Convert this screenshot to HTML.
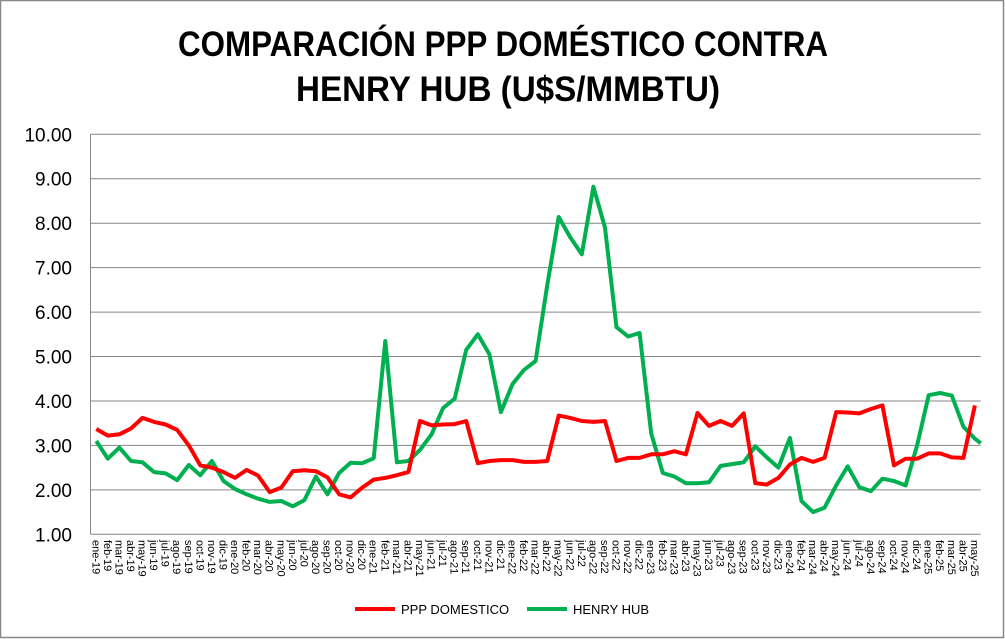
<!DOCTYPE html>
<html><head><meta charset="utf-8"><style>
html,body{margin:0;padding:0;background:#fff}
svg{display:block}
</style></head><body>
<svg id="c" width="1005" height="639" xmlns="http://www.w3.org/2000/svg" font-family="Liberation Sans, sans-serif">
<rect x="0.5" y="0.5" width="1003" height="637" fill="#fff" stroke="#888" stroke-width="1.5"/>
<text x="178" y="56" textLength="650" lengthAdjust="spacingAndGlyphs" font-size="35" font-weight="bold" fill="#000">COMPARACIÓN PPP DOMÉSTICO CONTRA</text>
<text x="296" y="101" textLength="424" lengthAdjust="spacingAndGlyphs" font-size="35" font-weight="bold" fill="#000">HENRY HUB (U$S/MMBTU)</text>
<g id="grid"></g>
<g id="lines"></g>
<g id="labels" font-size="11" fill="#000"></g>
<line x1="355" y1="609" x2="395" y2="609" stroke="#ff0000" stroke-width="4"/>
<text x="401" y="614" font-size="13">PPP DOMESTICO</text>
<line x1="527" y1="609" x2="567" y2="609" stroke="#00b050" stroke-width="4"/>
<text x="573" y="614" font-size="13">HENRY HUB</text>
</svg>
<script>
var L=90.5,R=980.7,T=134.3,B=534.3;
function Y(v){return B-(v-1)*(B-T)/9;}
var n=77,w=(R-L)/n;function X(i){return L+w*(i+0.5);}
var g='';
for(var v=1;v<=10;v++){var y=Y(v);g+='<line x1="'+L+'" y1="'+y+'" x2="'+R+'" y2="'+y+'" stroke="#868686" stroke-width="1"/>';
g+='<text x="72" y="'+(y+7)+'" text-anchor="end" font-size="19" fill="#000">'+v.toFixed(2)+'</text>';}
g+='<line x1="'+L+'" y1="'+T+'" x2="'+L+'" y2="'+B+'" stroke="#868686"/>';
document.getElementById('grid').innerHTML=g;
var red=[3.37,3.22,3.25,3.38,3.62,3.53,3.47,3.35,3.0,2.55,2.5,2.4,2.27,2.45,2.32,1.95,2.05,2.42,2.44,2.42,2.28,1.9,1.83,2.05,2.23,2.27,2.33,2.4,3.55,3.45,3.47,3.48,3.55,2.6,2.65,2.67,2.67,2.63,2.63,2.65,3.67,3.62,3.55,3.53,3.55,2.65,2.72,2.72,2.8,2.8,2.87,2.8,3.73,3.44,3.55,3.44,3.72,2.15,2.12,2.27,2.57,2.72,2.63,2.72,3.75,3.74,3.72,3.82,3.9,2.55,2.7,2.7,2.82,2.82,2.73,2.72,3.9];
var grn=[3.1,2.7,2.95,2.65,2.62,2.4,2.37,2.22,2.56,2.33,2.65,2.2,2.02,1.9,1.8,1.73,1.75,1.63,1.77,2.3,1.9,2.38,2.61,2.6,2.71,5.35,2.62,2.65,2.9,3.25,3.84,4.05,5.15,5.5,5.05,3.75,4.38,4.7,4.9,6.6,8.14,7.68,7.3,8.82,7.9,5.66,5.45,5.53,3.27,2.38,2.3,2.15,2.15,2.17,2.54,2.58,2.62,2.98,2.73,2.5,3.17,1.75,1.5,1.6,2.1,2.53,2.06,1.97,2.25,2.2,2.1,3.0,4.13,4.18,4.12,3.42,3.15];
function pts(a){return a.map(function(v,i){return X(i).toFixed(1)+','+Y(v).toFixed(1)}).join(' ');}
var gp=pts(grn)+' '+R+','+Y(3.05).toFixed(1);
document.getElementById('lines').innerHTML='<polyline points="'+gp+'" fill="none" stroke="#00b050" stroke-width="4" stroke-linejoin="round"/><polyline points="'+pts(red)+'" fill="none" stroke="#ff0000" stroke-width="4" stroke-linejoin="round"/>';
var m=['ene','feb','mar','abr','may','jun','jul','ago','sep','oct','nov','dic'];
var t='';
for(var i=0;i<n;i++){var x=X(i)-4,lab=m[i%12]+'-'+(19+Math.floor(i/12));
t+='<text transform="translate('+x.toFixed(1)+',540) rotate(90)">'+lab+'</text>';}
document.getElementById('labels').innerHTML=t;
</script>
</body></html>
